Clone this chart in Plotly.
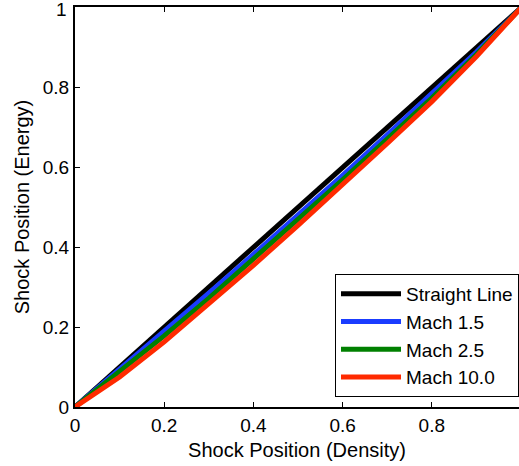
import plotly.graph_objects as go

# Shock position traced in density vs. energy
x_pts = [0.0, 0.1, 0.2, 0.3, 0.4, 0.5, 0.6, 0.7, 0.8, 0.9, 1.0]
straight_x = [0.0, 1.0]
straight_y = [0.0, 1.0]
mach_15 = [0.0, 0.094, 0.189, 0.285, 0.382, 0.480, 0.580, 0.682, 0.784, 0.889, 1.0]
mach_25 = [0.0, 0.088, 0.178, 0.272, 0.370, 0.469, 0.569, 0.671, 0.774, 0.883, 1.0]
mach_100 = [0.0, 0.075, 0.163, 0.257, 0.355, 0.455, 0.556, 0.660, 0.765, 0.878, 1.0]

tick_vals = [0, 0.2, 0.4, 0.6, 0.8, 1]
tick_text = ["0", "0.2", "0.4", "0.6", "0.8", "1"]

FONT = "Liberation Sans, Arial, Helvetica, sans-serif"
LW = 5

fig = go.Figure()
fig.add_trace(go.Scatter(x=straight_x, y=straight_y, mode="lines", name="Straight Line",
                         line=dict(color="#000000", width=LW)))
fig.add_trace(go.Scatter(x=x_pts, y=mach_15, mode="lines", name="Mach 1.5",
                         line=dict(color="#1a3cff", width=LW)))
fig.add_trace(go.Scatter(x=x_pts, y=mach_25, mode="lines", name="Mach 2.5",
                         line=dict(color="#008000", width=LW)))
fig.add_trace(go.Scatter(x=x_pts, y=mach_100, mode="lines", name="Mach 10.0",
                         line=dict(color="#ff2a00", width=LW)))

# the top y tick label sits on the figure edge, so place it explicitly
fig.add_annotation(text=tick_text[-1], x=0, xref="paper", xanchor="right", xshift=-6,
                   y=tick_vals[-1], yref="y", yanchor="middle", yshift=-2,
                   showarrow=False, font=dict(size=19))

fig.update_layout(
    width=519, height=466,
    margin=dict(l=75, r=0, t=7, b=59),
    paper_bgcolor="white", plot_bgcolor="white",
    font=dict(family=FONT, size=19, color="black"),
    showlegend=True,
    legend=dict(
        x=1.0, xanchor="right", y=0.025, yanchor="bottom",
        bgcolor="white", bordercolor="black", borderwidth=1,
        font=dict(size=19), itemwidth=60, tracegroupgap=0,
    ),
    xaxis=dict(
        range=[0, 0.9955], tickvals=tick_vals, ticktext=tick_text,
        ticks="inside", ticklen=5, tickwidth=1, tickcolor="black",
        showline=True, linecolor="black", linewidth=2, mirror="ticks",
        showgrid=False, zeroline=False, tickfont=dict(size=19),
        title=dict(text="Shock Position (Density)", standoff=8, font=dict(size=20)),
    ),
    yaxis=dict(
        range=[0, 1.002], tickvals=tick_vals, ticktext=tick_text,
        ticks="inside", ticklen=5, tickwidth=1, tickcolor="black",
        showline=True, linecolor="black", linewidth=2,
        showgrid=False, zeroline=False, tickfont=dict(size=19),
        title=dict(text="Shock Position (Energy)", standoff=8, font=dict(size=20)),
    ),
)

fig.write_html("out.html")
